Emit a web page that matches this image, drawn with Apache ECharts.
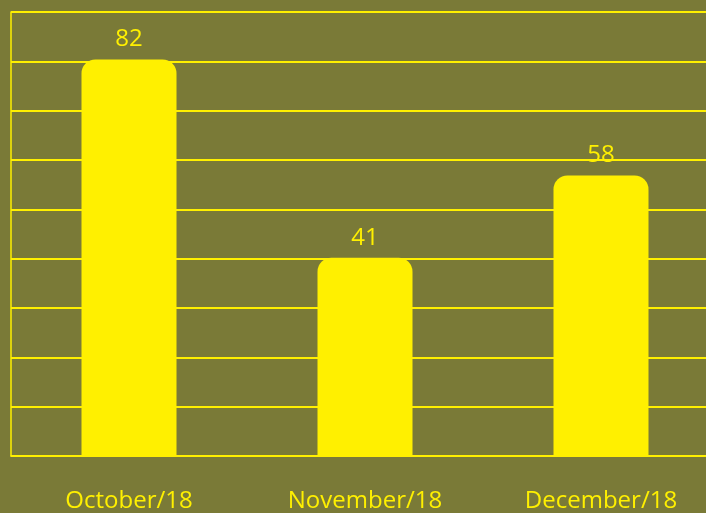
<!DOCTYPE html>
<html>
<head>
<meta charset="utf-8">
<script src="https://cdn.jsdelivr.net/npm/echarts@6/dist/echarts.min.js"></script>
<style>
  html, body { margin: 0; padding: 0; background: #7a7a37; }
  #chart { width: 706px; height: 513px; }
</style>
</head>
<body>
<div id="chart"></div>
<script>
const categories = ['October/18', 'November/18', 'December/18']
const values = [82, 41, 58]
// y axis (labels hidden): 9 bands up to the top line
const yMax = 91.8
const yStep = 10.2

const yellow = '#fff000'
const chart = echarts.init(document.getElementById('chart'))

const option = {
  backgroundColor: '#7a7a37',
  animation: false,
  grid: {
    top: 12,
    bottom: 57,
    left: 11,
    width: 708, // plot runs a little past the right edge
    outerBoundsMode: 'none',
    containLabel: false,
  },
  xAxis: {
    type: 'category',
    data: categories,
    axisLine: { show: true, lineStyle: { color: yellow, width: 1.5 } },
    axisTick: { show: false },
    axisLabel: {
      color: yellow,
      fontSize: 24,
      fontFamily: 'Open Sans',
      margin: 33,
    },
  },
  yAxis: {
    type: 'value',
    min: 0,
    max: yMax,
    interval: yStep,
    axisLine: { show: true, lineStyle: { color: yellow, width: 1.5 } },
    axisTick: { show: false },
    axisLabel: { show: false },
    splitLine: { show: true, lineStyle: { color: yellow, width: 2 } },
  },
  series: [
    {
      type: 'bar',
      data: values,
      barWidth: 95,
      itemStyle: {
        color: yellow,
        borderRadius: [14, 14, 0, 0],
      },
      label: {
        show: true,
        position: 'top',
        distance: 8,
        color: yellow,
        fontSize: 24,
        fontFamily: 'Open Sans',
      },
    },
  ],
}
chart.setOption(option)
</script>
</body>
</html>
